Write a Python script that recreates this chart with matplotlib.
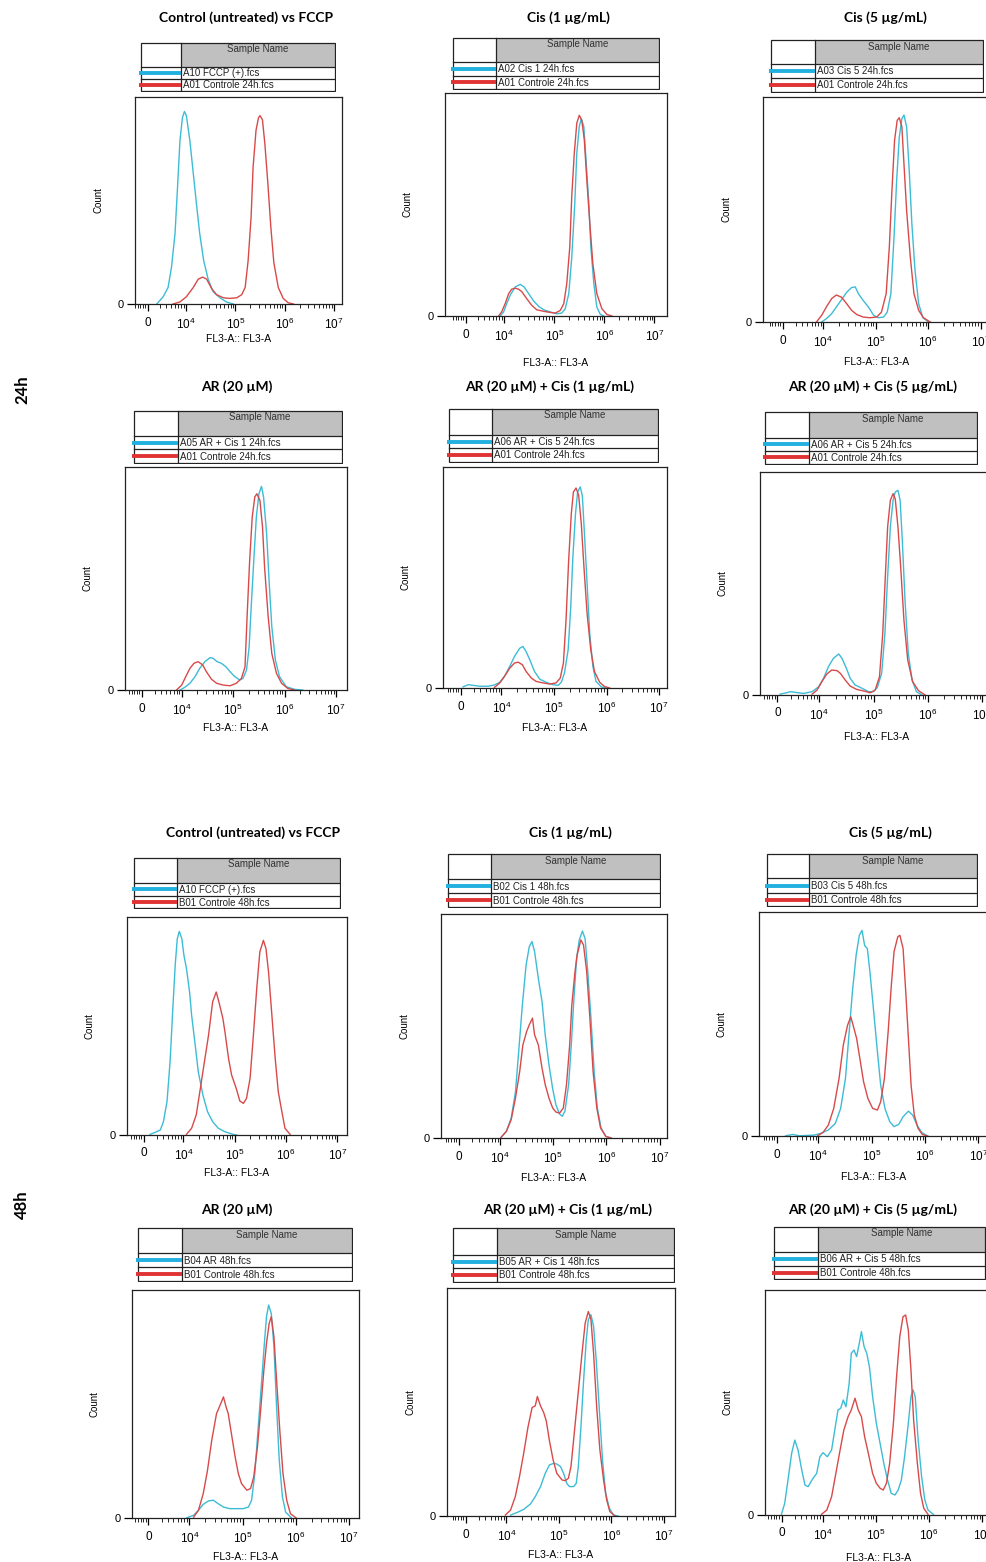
import matplotlib
matplotlib.use("Agg")
import numpy as np
from matplotlib import pyplot as plt
from matplotlib.patches import Rectangle

W, H = 987, 1562
CYAN = "#3dbcd6"
RED = "#d84a4a"
LEG_CYAN = "#22b0e0"
LEG_RED = "#e03434"

plt.rcParams["font.family"] = ["Liberation Sans", "DejaVu Sans"]
plt.rcParams["mathtext.fontset"] = "custom"
plt.rcParams["mathtext.rm"] = "Liberation Sans"

# x = FL3-A position in decades on the biexponential display (0 sits at 3.23)
# y = count, in % of the plot height
# ---- 24h ----
p1_cyan_x = [3.41, 3.54, 3.64, 3.71, 3.78, 3.83, 3.88, 3.93, 3.97, 4.01, 4.08, 4.15, 4.22, 4.28, 4.36, 4.45, 4.55, 4.69, 4.82, 4.96]
p1_cyan_y = [0, 3.5, 8, 18, 34, 56, 79, 90, 93, 91, 79, 63, 47, 34, 21, 12, 6, 3, 1, 0]
p1_red_x = [3.74, 3.88, 4.01, 4.15, 4.25, 4.34, 4.42, 4.52, 4.62, 4.76, 4.89, 5.03, 5.13, 5.20, 5.26, 5.32, 5.36, 5.42, 5.47, 5.50, 5.55, 5.60, 5.66, 5.72, 5.78, 5.87, 5.97, 6.07, 6.18]
p1_red_y = [0, 1, 3.5, 8, 12, 13, 12, 7.5, 4.5, 3, 2.7, 3, 4.5, 8, 21, 42, 66, 84, 90, 91, 89, 77, 58, 37, 20, 8, 2.7, 0.6, 0]

p2_cyan_x = [3.92, 3.99, 4.05, 4.12, 4.22, 4.32, 4.40, 4.49, 4.59, 4.69, 4.79, 4.92, 5.05, 5.15, 5.22, 5.29, 5.35, 5.41, 5.45, 5.50, 5.54, 5.59, 5.63, 5.69, 5.73, 5.79, 5.85, 5.92, 5.99]
p2_cyan_y = [0, 1.8, 5.5, 9.3, 13, 14.2, 13, 10, 6.7, 4.3, 2.8, 1.8, 1, 1.3, 3.3, 10, 26.5, 50.5, 73, 85, 88.5, 85, 71.5, 50.5, 31, 14.5, 4, 0.7, 0]
p2_red_x = [3.89, 3.95, 4.02, 4.09, 4.15, 4.22, 4.29, 4.35, 4.45, 4.55, 4.65, 4.79, 4.92, 5.02, 5.12, 5.19, 5.25, 5.31, 5.35, 5.40, 5.45, 5.50, 5.55, 5.60, 5.65, 5.71, 5.77, 5.85, 5.95, 6.05, 6.15]
p2_red_y = [0, 1.8, 5.5, 10, 12, 12.5, 12, 11, 7.8, 4.8, 2.8, 2.1, 1.6, 1.3, 2.5, 5.5, 14.5, 31, 54, 73, 86.5, 90, 87.7, 79, 61, 41.5, 23.5, 10, 3.3, 0.7, 0]

p3_cyan_x = [3.97, 4.06, 4.16, 4.25, 4.35, 4.45, 4.54, 4.61, 4.67, 4.76, 4.86, 4.96, 5.05, 5.15, 5.22, 5.29, 5.35, 5.40, 5.45, 5.50, 5.54, 5.59, 5.64, 5.69, 5.75, 5.82, 5.90, 6.01]
p3_cyan_y = [0, 1.5, 3.7, 6.7, 10, 13.3, 15.3, 15.6, 12.6, 9.6, 6.7, 3, 1.9, 2.2, 4.4, 12.6, 37.8, 63, 82.2, 90.4, 92, 86.7, 67.4, 43.7, 23, 8.1, 1.9, 0]
p3_red_x = [3.87, 3.97, 4.06, 4.16, 4.25, 4.35, 4.45, 4.54, 4.64, 4.76, 4.89, 5.02, 5.11, 5.20, 5.26, 5.31, 5.36, 5.41, 5.45, 5.50, 5.54, 5.59, 5.66, 5.73, 5.82, 5.91, 6.04]
p3_red_y = [0, 3, 6.7, 10.4, 12, 11, 8, 5.2, 3.3, 2.2, 1.9, 2.2, 4.4, 12.6, 33.3, 58.5, 80.7, 89.6, 90.8, 86.7, 70, 49.6, 28.9, 12.6, 5.2, 1.9, 0]

p4_cyan_x = [3.97, 4.06, 4.16, 4.26, 4.35, 4.45, 4.55, 4.61, 4.69, 4.77, 4.86, 4.94, 5.03, 5.13, 5.19, 5.26, 5.31, 5.35, 5.40, 5.45, 5.50, 5.55, 5.59, 5.65, 5.70, 5.75, 5.82, 5.90, 6.03, 6.19, 6.35]
p4_cyan_y = [0, 1.2, 3, 6, 9.7, 12.7, 14.5, 14.2, 12.7, 12, 10.4, 8.2, 6, 4.5, 5.2, 9, 19.4, 37.3, 58, 77.6, 88, 91.3, 86.6, 70, 47.8, 28.4, 13.4, 6, 1.5, 0.3, 0]
p4_red_x = [3.90, 4.00, 4.08, 4.16, 4.24, 4.32, 4.41, 4.48, 4.58, 4.68, 4.81, 4.94, 5.06, 5.16, 5.23, 5.27, 5.32, 5.37, 5.42, 5.46, 5.52, 5.57, 5.61, 5.68, 5.75, 5.84, 5.94, 6.06, 6.19]
p4_red_y = [0, 2.2, 6, 9.7, 12, 12.7, 11.2, 8.2, 4.8, 3, 2.2, 1.9, 3, 5.2, 10.4, 32.8, 58, 77.6, 86.6, 88, 85, 73, 55, 32.8, 16.4, 7.5, 3, 0.7, 0]

p5_cyan_x = [3.27, 3.37, 3.46, 3.59, 3.75, 3.87, 3.97, 4.06, 4.16, 4.25, 4.35, 4.41, 4.47, 4.54, 4.63, 4.73, 4.85, 4.98, 5.08, 5.14, 5.20, 5.27, 5.32, 5.36, 5.41, 5.45, 5.50, 5.54, 5.58, 5.63, 5.68, 5.74, 5.80, 5.90, 5.99]
p5_cyan_y = [0.5, 1.5, 1.2, 0.8, 0.8, 1.4, 2.6, 5.3, 9.8, 14.3, 18, 18.8, 16.5, 12.8, 7.5, 4, 2.6, 1.5, 1.2, 2.6, 6.8, 17.3, 36.8, 59.4, 78.9, 88.7, 91, 87, 69.8, 47.4, 24.8, 9.8, 3, 0.5, 0]
p5_red_x = [3.87, 3.97, 4.06, 4.16, 4.25, 4.32, 4.40, 4.47, 4.57, 4.66, 4.79, 4.92, 5.04, 5.12, 5.18, 5.23, 5.28, 5.33, 5.37, 5.42, 5.47, 5.52, 5.57, 5.63, 5.70, 5.77, 5.87, 5.96, 6.06]
p5_red_y = [0.3, 2.3, 5.3, 9, 11.3, 11.7, 10.5, 7.5, 4.5, 3, 2.3, 1.8, 2.3, 4.5, 11.3, 30.8, 57.9, 78.9, 88.7, 90.5, 87.2, 74.4, 54.9, 33.8, 17.3, 7.5, 2.6, 0.7, 0]

p6_cyan_x = [3.28, 3.40, 3.47, 3.56, 3.71, 3.87, 3.99, 4.08, 4.17, 4.26, 4.36, 4.42, 4.50, 4.57, 4.66, 4.79, 4.91, 5.00, 5.07, 5.15, 5.21, 5.26, 5.31, 5.36, 5.40, 5.45, 5.49, 5.53, 5.58, 5.64, 5.71, 5.79, 5.89]
p6_cyan_y = [0.4, 1, 1.5, 1.2, 0.7, 1.5, 3.7, 7.5, 12.7, 16.4, 18.4, 16.4, 12, 7.5, 4.5, 3, 1.5, 1.5, 3.4, 9.7, 27.6, 53, 75.4, 87.3, 91, 91.8, 87.3, 69.4, 42.5, 18.7, 6.7, 1.5, 0]
p6_red_x = [3.87, 3.96, 4.05, 4.14, 4.23, 4.33, 4.39, 4.48, 4.57, 4.69, 4.82, 4.94, 5.03, 5.11, 5.17, 5.22, 5.26, 5.31, 5.36, 5.40, 5.45, 5.50, 5.56, 5.63, 5.72, 5.83, 5.95]
p6_red_y = [0.4, 2.2, 6, 9.4, 11.2, 10.9, 9.7, 6.7, 4, 2.5, 1.8, 1, 2.2, 8.2, 27.6, 54.5, 75.4, 87.3, 90.3, 88, 75.4, 57.5, 33.6, 15.7, 6, 1.9, 0]

# ---- 48h ----
p7_cyan_x = [3.35, 3.45, 3.55, 3.61, 3.68, 3.74, 3.79, 3.84, 3.88, 3.92, 3.97, 4.01, 4.06, 4.12, 4.16, 4.23, 4.29, 4.38, 4.47, 4.57, 4.68, 4.81, 4.97, 5.04]
p7_cyan_y = [0.3, 1.2, 2.3, 6.1, 15.3, 33.6, 56.5, 77.9, 90, 93.4, 90, 82.4, 76.3, 65.6, 55, 41.2, 29, 18.3, 10.7, 6.1, 3.1, 1.5, 0.3, 0]
p7_red_x = [4.06, 4.16, 4.25, 4.32, 4.40, 4.49, 4.57, 4.64, 4.70, 4.77, 4.81, 4.88, 4.94, 5.03, 5.10, 5.17, 5.23, 5.30, 5.36, 5.43, 5.49, 5.56, 5.61, 5.66, 5.72, 5.79, 5.85, 5.92, 5.98, 6.08]
p7_red_y = [0.3, 3.1, 9.2, 19.8, 32.1, 45.8, 61.1, 65.6, 60.3, 53.4, 47.3, 35.1, 27.5, 21.4, 15.6, 14.5, 16.8, 26, 44.3, 67.2, 84, 89.3, 85.5, 74.8, 56.5, 35.1, 19.8, 10.7, 3.1, 0.3]

p8_cyan_x = [4.02, 4.12, 4.21, 4.29, 4.35, 4.42, 4.49, 4.55, 4.60, 4.65, 4.72, 4.79, 4.85, 4.92, 4.99, 5.05, 5.12, 5.17, 5.22, 5.29, 5.34, 5.39, 5.44, 5.49, 5.55, 5.60, 5.65, 5.71, 5.77, 5.83, 5.90, 5.99, 6.09]
p8_cyan_y = [0.3, 3, 8.9, 20.5, 38.3, 59.4, 77.2, 85.4, 87.7, 83.2, 71.3, 60.9, 46, 32.7, 22, 14.9, 10.7, 9.7, 11.9, 23.8, 41.6, 62.4, 80.2, 88.4, 92.4, 89, 74.3, 53.5, 29.7, 13.4, 4.5, 0.7, 0]
p8_red_x = [4.02, 4.12, 4.21, 4.29, 4.37, 4.43, 4.50, 4.55, 4.61, 4.65, 4.72, 4.79, 4.85, 4.92, 4.99, 5.05, 5.12, 5.19, 5.25, 5.31, 5.35, 5.41, 5.45, 5.52, 5.57, 5.63, 5.69, 5.75, 5.82, 5.89, 5.99, 6.09]
p8_red_y = [0.3, 3, 8.2, 17.8, 29.7, 41.6, 47.5, 50.5, 53.5, 46, 41.6, 31.2, 23.8, 17.8, 13.4, 11.6, 11.1, 13.4, 23.8, 41.6, 59.4, 74.3, 81.7, 88.4, 86.2, 74.3, 53.5, 29.7, 13.4, 4.5, 0.7, 0]

p9_cyan_x = [3.39, 3.52, 3.65, 3.92, 4.05, 4.19, 4.32, 4.42, 4.51, 4.57, 4.64, 4.71, 4.77, 4.82, 4.87, 4.92, 4.97, 5.04, 5.11, 5.17, 5.25, 5.34, 5.42, 5.51, 5.59, 5.69, 5.77, 5.85, 5.94, 6.05]
p9_cyan_y = [0.1, 0.7, 0.1, 0.4, 1.2, 2.7, 5.6, 12.3, 25.7, 43.5, 64.3, 80.7, 89.6, 91.8, 85, 83.7, 73, 55.3, 37.4, 22.7, 12.3, 6.4, 4.2, 5.2, 8.6, 11.1, 9.3, 4.9, 1.6, 0]
p9_red_x = [3.99, 4.09, 4.19, 4.29, 4.39, 4.47, 4.55, 4.61, 4.67, 4.72, 4.79, 4.85, 4.93, 5.02, 5.11, 5.17, 5.24, 5.31, 5.37, 5.42, 5.49, 5.53, 5.59, 5.64, 5.69, 5.74, 5.80, 5.87, 5.95, 6.05]
p9_red_y = [0.1, 1.6, 4.9, 12.3, 25.7, 40.6, 49.5, 53.2, 48, 43.5, 33.1, 24.2, 16.8, 12.3, 11.6, 15.3, 25.7, 46.5, 67.3, 82.2, 88.9, 89.6, 83.7, 64.3, 43.5, 22.7, 9.3, 3.4, 0.7, 0]

p10_cyan_x = [3.95, 4.08, 4.17, 4.26, 4.36, 4.45, 4.54, 4.64, 4.76, 4.89, 5.01, 5.11, 5.17, 5.23, 5.29, 5.36, 5.41, 5.45, 5.49, 5.54, 5.59, 5.64, 5.69, 5.75, 5.81, 5.92]
p10_cyan_y = [0.1, 1.2, 3.4, 6, 7.5, 7.8, 6.3, 4.8, 4.1, 4.1, 4.1, 4.8, 7.8, 19.5, 38.5, 60.4, 76.6, 88.3, 93.4, 89.7, 75.1, 48.7, 25.3, 9.2, 2.6, 0]
p10_red_x = [4.08, 4.17, 4.26, 4.34, 4.42, 4.51, 4.59, 4.64, 4.69, 4.73, 4.79, 4.86, 4.92, 4.98, 5.08, 5.15, 5.21, 5.28, 5.34, 5.40, 5.45, 5.50, 5.54, 5.59, 5.64, 5.70, 5.76, 5.83, 5.90, 6.01]
p10_red_y = [0.4, 3.4, 10.7, 20.9, 34.1, 45.8, 50.2, 53.1, 48.7, 45.8, 37, 26.8, 19.5, 15.1, 12.2, 12.9, 18, 31.2, 47.3, 64.8, 76.6, 85.3, 88.3, 79.5, 60.4, 38.5, 19.5, 7.8, 1.9, 0]

p11_cyan_x = [4.08, 4.20, 4.33, 4.46, 4.55, 4.65, 4.74, 4.82, 4.90, 4.96, 5.03, 5.09, 5.15, 5.20, 5.28, 5.33, 5.37, 5.42, 5.47, 5.52, 5.56, 5.61, 5.66, 5.71, 5.77, 5.83, 5.89, 5.96, 6.04, 6.13]
p11_cyan_y = [0.4, 1.5, 2.9, 5.3, 8.5, 12.9, 18.7, 22.4, 23.1, 22.8, 21.7, 18.7, 14.3, 12.9, 12.9, 14.3, 21.7, 39.3, 59.4, 77, 86.1, 88.3, 83.2, 68.5, 46.5, 24.6, 10, 3.4, 0.4, 0]
p11_red_x = [3.98, 4.08, 4.17, 4.25, 4.33, 4.41, 4.49, 4.55, 4.59, 4.65, 4.71, 4.76, 4.82, 4.89, 4.96, 5.06, 5.12, 5.18, 5.23, 5.28, 5.34, 5.39, 5.44, 5.50, 5.56, 5.61, 5.66, 5.72, 5.78, 5.85, 5.91, 5.97, 6.07]
p11_red_y = [0.4, 2.6, 8.5, 17.3, 27.5, 38.8, 47.6, 48.3, 52.4, 48.3, 45.4, 41.7, 33, 24.6, 18.7, 15.8, 15.5, 16.5, 21.7, 33.4, 47.6, 59.4, 71.4, 84.6, 89.7, 86.1, 71.4, 47.6, 29, 15.8, 7, 1.9, 0]

p12_cyan_x = [3.23, 3.29, 3.36, 3.42, 3.48, 3.54, 3.61, 3.67, 3.73, 3.81, 3.89, 3.95, 4.01, 4.09, 4.17, 4.23, 4.29, 4.34, 4.39, 4.44, 4.50, 4.54, 4.59, 4.64, 4.69, 4.73, 4.78, 4.83, 4.88, 4.94, 5.01, 5.08, 5.15, 5.22, 5.29, 5.36, 5.42, 5.48, 5.54, 5.61, 5.66, 5.70, 5.74, 5.79, 5.86, 5.92, 5.98, 6.08]
p12_cyan_y = [0.4, 5.2, 17, 27.4, 33.3, 28.9, 20, 13.3, 12.6, 15.9, 18.5, 25.9, 27.7, 25.9, 28.9, 37.8, 46.7, 47.4, 51.1, 48.1, 58.5, 71.9, 73.3, 70.4, 76.3, 81.5, 74.8, 71.9, 65.9, 52.6, 40.7, 31.9, 23, 15.6, 9.6, 8.9, 11.1, 15.6, 25.9, 40.7, 52.6, 55.6, 52.6, 34.8, 17, 6.7, 2.2, 0.3]
p12_red_x = [3.98, 4.08, 4.17, 4.25, 4.33, 4.40, 4.48, 4.54, 4.61, 4.67, 4.73, 4.79, 4.86, 4.94, 5.01, 5.08, 5.14, 5.20, 5.26, 5.33, 5.39, 5.45, 5.51, 5.56, 5.61, 5.66, 5.71, 5.78, 5.84, 5.90, 5.98]
p12_red_y = [0.3, 2.2, 8.1, 18.5, 28.9, 37.8, 43.7, 46.7, 51.9, 46.7, 43.7, 34.8, 27.4, 18.5, 14.1, 11.9, 11.1, 14.1, 23, 40.7, 61.5, 79.3, 88.1, 88.9, 82.2, 64.4, 42.2, 23, 9.6, 3, 0.3]

titles = ["Control (untreated) vs FCCP", "Cis (1 µg/mL)", "Cis (5 µg/mL)",
          "AR (20 µM)", "AR (20 µM) + Cis (1 µg/mL)", "AR (20 µM) + Cis (5 µg/mL)",
          "Control (untreated) vs FCCP", "Cis (1 µg/mL)", "Cis (5 µg/mL)",
          "AR (20 µM)", "AR (20 µM) + Cis (1 µg/mL)", "AR (20 µM) + Cis (5 µg/mL)"]
samples = ["A10 FCCP (+).fcs", "A02 Cis 1 24h.fcs", "A03 Cis 5 24h.fcs",
           "A05 AR + Cis 1 24h.fcs", "A06 AR + Cis 5 24h.fcs", "A06 AR + Cis 5 24h.fcs",
           "A10 FCCP (+).fcs", "B02 Cis 1 48h.fcs", "B03 Cis 5 48h.fcs",
           "B04 AR 48h.fcs", "B05 AR + Cis 1 48h.fcs", "B06 AR + Cis 5 48h.fcs"]
controls = ["A01 Controle 24h.fcs"] * 6 + ["B01 Controle 48h.fcs"] * 6

cyan_series = [(p1_cyan_x, p1_cyan_y), (p2_cyan_x, p2_cyan_y), (p3_cyan_x, p3_cyan_y),
               (p4_cyan_x, p4_cyan_y), (p5_cyan_x, p5_cyan_y), (p6_cyan_x, p6_cyan_y),
               (p7_cyan_x, p7_cyan_y), (p8_cyan_x, p8_cyan_y), (p9_cyan_x, p9_cyan_y),
               (p10_cyan_x, p10_cyan_y), (p11_cyan_x, p11_cyan_y), (p12_cyan_x, p12_cyan_y)]
red_series = [(p1_red_x, p1_red_y), (p2_red_x, p2_red_y), (p3_red_x, p3_red_y),
              (p4_red_x, p4_red_y), (p5_red_x, p5_red_y), (p6_red_x, p6_red_y),
              (p7_red_x, p7_red_y), (p8_red_x, p8_red_y), (p9_red_x, p9_red_y),
              (p10_red_x, p10_red_y), (p11_red_x, p11_red_y), (p12_red_x, p12_red_y)]

# layout in pixels: plot box (left, right, top, bottom), x range in decades,
# title centre, legend table (left, right, top, header bottom, row line, bottom, split), x label y
layout = [
    dict(box=(135, 342, 97, 304), xr=(2.97, 7.16), tt=(246, 18), leg=(141, 335, 43, 67, 79, 91, 181), xl=339),
    dict(box=(445, 667, 93, 316), xr=(2.82, 7.25), tt=(568, 18), leg=(453, 659, 38, 62, 76, 89, 496), xl=363),
    dict(box=(763, 991, 97, 322), xr=(2.85, 7.2), tt=(885, 18), leg=(771, 983, 40, 64, 78, 92, 815), xl=362),
    dict(box=(125, 347, 467, 690), xr=(2.90, 7.21), tt=(237, 387), leg=(134, 342, 411, 436, 449, 463, 178), xl=728),
    dict(box=(443, 667, 467, 688), xr=(2.89, 7.15), tt=(550, 387), leg=(449, 658, 409, 435, 448, 462, 492), xl=728),
    dict(box=(760, 993, 472, 695), xr=(2.91, 7.2), tt=(873, 387), leg=(765, 977, 412, 438, 451, 464, 809), xl=737),
    dict(box=(127, 347, 917, 1135), xr=(2.90, 7.19), tt=(253, 833), leg=(134, 340, 858, 883, 896, 908, 177), xl=1173),
    dict(box=(441, 667, 914, 1138), xr=(2.89, 7.14), tt=(570, 833), leg=(448, 660, 854, 879, 893, 907, 491), xl=1178),
    dict(box=(759, 989, 912, 1136), xr=(2.89, 7.2), tt=(890, 833), leg=(767, 977, 854, 878, 893, 906, 809), xl=1177),
    dict(box=(132, 359, 1290, 1518), xr=(2.92, 7.19), tt=(237, 1210), leg=(138, 352, 1228, 1253, 1267, 1281, 182), xl=1557),
    dict(box=(447, 675, 1288, 1516), xr=(2.87, 7.21), tt=(568, 1210), leg=(453, 674, 1228, 1255, 1268, 1282, 497), xl=1555),
    dict(box=(765, 993, 1290, 1515), xr=(2.92, 7.2), tt=(873, 1210), leg=(774, 985, 1227, 1252, 1266, 1279, 818), xl=1558),
]

ZERO = 3.23
major_pos = [ZERO, 4, 5, 6, 7]
major_lab = ["0", r"$\mathregular{10^{4}}$", r"$\mathregular{10^{5}}$", r"$\mathregular{10^{6}}$", r"$\mathregular{10^{7}}$"]
minor_pos = [ZERO - 0.05 * k for k in range(1, 6)] + [np.log10(k * 1000) for k in range(3, 10)]
minor_pos += [n + np.log10(k) for n in (4, 5, 6) for k in range(2, 10)]

fig = plt.figure(figsize=(W / 100, H / 100), dpi=100)


def px_axes(l, r, t, b):
    return fig.add_axes([l / W, 1 - b / H, (r - l) / W, (b - t) / H])


def fig_text(x, y, s, **kw):
    fig.text(x / W, 1 - y / H, s, **kw)


for i, lay in enumerate(layout):
    l, r, t, b = lay["box"]
    ax = px_axes(l, r, t, b)
    cx, cy = cyan_series[i]
    rx, ry = red_series[i]
    ax.plot(cx, cy, color=CYAN, lw=1.0)
    ax.plot(rx, ry, color=RED, lw=1.0)
    ax.set_xlim(*lay["xr"])
    ax.set_ylim(0, 100)
    ax.set_xticks(major_pos)
    ax.set_xticklabels(major_lab, fontsize=8.5)
    ax.set_xticks(minor_pos, minor=True)
    ax.set_yticks([0])
    ax.set_yticklabels(["0"], fontsize=8)
    ax.tick_params(axis="x", which="major", direction="out", length=5, width=0.9, pad=4)
    ax.tick_params(axis="x", which="minor", direction="out", length=3, width=0.6)
    ax.tick_params(axis="y", direction="out", length=6, width=0.9, pad=2)
    for sp in ax.spines.values():
        sp.set_linewidth(0.9)
        sp.set_color("#222222")

    fig_text((l + r) / 2, lay["xl"], "FL3-A:: FL3-A", fontsize=7.5, ha="center", va="center")
    fig_text(l - 37, (t + b) / 2, "Count", fontsize=7, rotation=90, ha="center", va="center")

    tx, ty = lay["tt"]
    fig_text(tx, ty, titles[i], fontsize=10, fontweight="bold", family=["Lato", "DejaVu Sans"],
             ha="center", va="center")

    # legend table
    ll, lr, lt, hb, dv, lb, sp_x = lay["leg"]
    lax = px_axes(ll - 3, lr + 1, lt - 1, lb + 1)
    lax.set_xlim(ll - 3, lr + 1)
    lax.set_ylim(lb + 1, lt - 1)
    lax.axis("off")
    lax.add_patch(Rectangle((sp_x, lt), lr - sp_x, hb - lt, facecolor="#c0c0c0", edgecolor="none"))
    lax.add_patch(Rectangle((ll, lt), lr - ll, lb - lt, facecolor="none", edgecolor="#222222", lw=0.9))
    lax.plot([ll, lr], [hb, hb], color="#222222", lw=0.9)
    lax.plot([ll, lr], [dv, dv], color="#222222", lw=0.9)
    lax.plot([sp_x, sp_x], [lt, lb], color="#222222", lw=0.9)
    lax.plot([ll - 2, sp_x], [(hb + dv) / 2, (hb + dv) / 2], color=LEG_CYAN, lw=2.8, solid_capstyle="butt")
    lax.plot([ll - 2, sp_x], [(dv + lb) / 2, (dv + lb) / 2], color=LEG_RED, lw=2.8, solid_capstyle="butt")
    lax.text((sp_x + lr) / 2, lt + 1.5, "Sample Name", fontsize=7, color="#333333", ha="center", va="top")
    lax.text(sp_x + 2, (hb + dv) / 2 + 0.5, samples[i], fontsize=7, color="#222222", ha="left", va="center")
    lax.text(sp_x + 2, (dv + lb) / 2 + 0.5, controls[i], fontsize=7, color="#222222", ha="left", va="center")

fig_text(22, 390, "24h", fontsize=12, fontweight="bold", rotation=90, ha="center", va="center",
         family=["Lato", "DejaVu Sans"])
fig_text(22, 1205, "48h", fontsize=12, fontweight="bold", rotation=90, ha="center", va="center",
         family=["Lato", "DejaVu Sans"])

fig.savefig("out.png", dpi=100, facecolor="white")
